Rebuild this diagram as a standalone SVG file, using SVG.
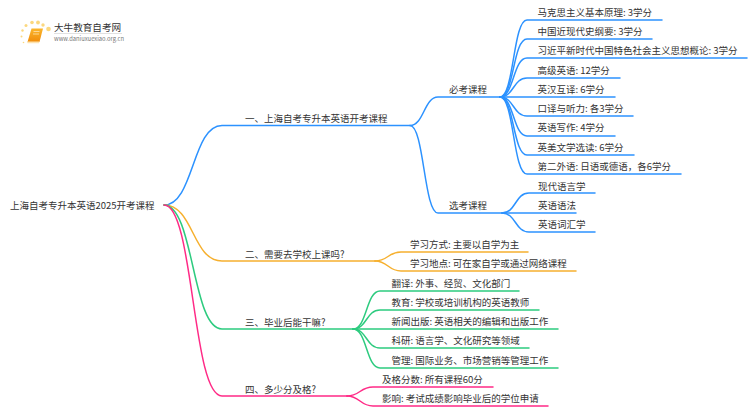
<svg xmlns="http://www.w3.org/2000/svg" width="750" height="410" viewBox="0 0 750 410">
<defs><linearGradient id="bk" x1="0" y1="0" x2="0" y2="1"><stop offset="0" stop-color="#fbb62c"/><stop offset="1" stop-color="#f08c0a"/></linearGradient></defs>
<style>
text{font-family:"Noto Sans CJK SC","Liberation Sans",sans-serif;font-size:9.5px;fill:#333}
.c path{fill:none;stroke-width:1.5;stroke-linecap:round}
.b path{stroke:#2c92ff}.o path{stroke:#f6b02f}.g path{stroke:#2dcb7f}.p path{stroke:#ff2a86}
</style>
<rect width="750" height="410" fill="#fff"/>
<g id="logo">
<g fill="#fbd87f"><circle cx="48.500" cy="29" r="2.300"/><circle cx="38" cy="22.500" r="1.900"/><circle cx="32" cy="22.500" r="1.800"/><circle cx="43" cy="25" r="1.700"/><circle cx="26" cy="25.500" r="1.500"/><circle cx="22.500" cy="30.500" r="1.200"/><circle cx="21.500" cy="36.500" r="1"/><circle cx="23.500" cy="42.500" r=".8"/></g>
<path d="M31.500 28.500h11.500l-3.500 13.500h-12z" fill="url(#bk)"/><path d="M27 41.500l.5 1.800h11.500l.5-1.800z" fill="#fde3b0"/>
<path d="M33.500 31.500h6M33 34h6" stroke="#fde3b0" stroke-width=".8" fill="none"/>
<text x="54" y="31" style="font-size:9.600px">大牛教育自考网</text>
<path d="M54 33.500h68" stroke="#ccc" stroke-width=".6"/>
<text x="54" y="41" style="font-size:5.800px;fill:#777">www.daniuxuexiao.org.cn</text>
</g>
<g id="connectors" class="c">
<g class="b">
<path d="M164 205C194 205 192 125.500 222 125.500H410"/>
<path d="M410 125.500C424 125.500 424 97 438 97H500"/>
<path d="M410 125.500C424 125.500 424 213 438 213H502"/>
<path d="M500 97C514 97 513 20 527 20H662"/>
<path d="M500 97C514 97 513 39 527 39H652"/>
<path d="M500 97C514 97 513 58 527 58H747"/>
<path d="M500 97C514 97 513 78 527 78H620"/>
<path d="M500 97H615"/>
<path d="M500 97C514 97 513 116 527 116H633"/>
<path d="M500 97C514 97 513 136 527 136H615"/>
<path d="M500 97C514 97 513 155 527 155H634"/>
<path d="M500 97C514 97 513 174 527 174H681"/>
<path d="M502 213C516 213 515 193 529 193H595"/>
<path d="M502 213H576"/>
<path d="M502 213C516 213 515 232 529 232H595"/>
</g>
<g class="o">
<path d="M164 205C194 205 192 261 222 261H375"/>
<path d="M375 261C388 261 388 252 401 252H528"/>
<path d="M375 261C388 261 388 271 401 271H576"/>
</g>
<g class="g">
<path d="M164 205C194 205 192 329 222 329H353"/>
<path d="M353 329C367 329 366 291 380 291H519"/>
<path d="M353 329C367 329 366 310 380 310H539"/>
<path d="M353 329H558"/>
<path d="M353 329C367 329 366 348 380 348H529"/>
<path d="M353 329C367 329 366 368 380 368H558"/>
</g>
<g class="p">
<path d="M164 205C194 205 192 396 222 396H347"/>
<path d="M347 396C360 396 360 387 373 387H493"/>
<path d="M347 396C360 396 360 406 373 406H548"/>
</g>
</g>
<g id="root"><text x="10" y="208.500">上海自考专升本英语2025开考课程</text></g>
<g id="n1"><text x="245" y="121.500">一、上海自考专升本英语开考课程</text></g>
<g id="n1a"><text x="449" y="92.500">必考课程</text></g>
<g id="n1a1"><text x="537.500" y="15.500">马克思主义基本原理: 3学分</text></g>
<g id="n1a2"><text x="537.500" y="35">中国近现代史纲要: 3学分</text></g>
<g id="n1a3"><text x="537.500" y="54">习近平新时代中国特色社会主义思想概论: 3学分</text></g>
<g id="n1a4"><text x="537.500" y="73.500">高级英语: 12学分</text></g>
<g id="n1a5"><text x="537.500" y="92.500">英汉互译: 6学分</text></g>
<g id="n1a6"><text x="537.500" y="112">口译与听力: 各3学分</text></g>
<g id="n1a7"><text x="537.500" y="131">英语写作: 4学分</text></g>
<g id="n1a8"><text x="537.500" y="150.500">英美文学选读: 6学分</text></g>
<g id="n1a9"><text x="537.500" y="170">第二外语: 日语或德语，各6学分</text></g>
<g id="n1b"><text x="449" y="208.500">选考课程</text></g>
<g id="n1b1"><text x="538" y="189.500">现代语言学</text></g>
<g id="n1b2"><text x="538" y="208.500">英语语法</text></g>
<g id="n1b3"><text x="538" y="228">英语词汇学</text></g>
<g id="n2"><text x="245" y="257.500">二、需要去学校上课吗?</text></g>
<g id="n2a"><text x="410" y="247.500">学习方式: 主要以自学为主</text></g>
<g id="n2b"><text x="410" y="266.500">学习地点: 可在家自学或通过网络课程</text></g>
<g id="n3"><text x="245" y="325.500">三、毕业后能干嘛?</text></g>
<g id="n3a"><text x="391.500" y="286.500">翻译: 外事、经贸、文化部门</text></g>
<g id="n3b"><text x="391.500" y="305.500">教育: 学校或培训机构的英语教师</text></g>
<g id="n3c"><text x="391.500" y="325">新闻出版: 英语相关的编辑和出版工作</text></g>
<g id="n3d"><text x="391.500" y="344">科研: 语言学、文化研究等领域</text></g>
<g id="n3e"><text x="391.500" y="363.500">管理: 国际业务、市场营销等管理工作</text></g>
<g id="n4"><text x="245" y="392.500">四、多少分及格?</text></g>
<g id="n4a"><text x="382" y="382.500">及格分数: 所有课程60分</text></g>
<g id="n4b"><text x="382" y="402">影响: 考试成绩影响毕业后的学位申请</text></g>
</svg>
